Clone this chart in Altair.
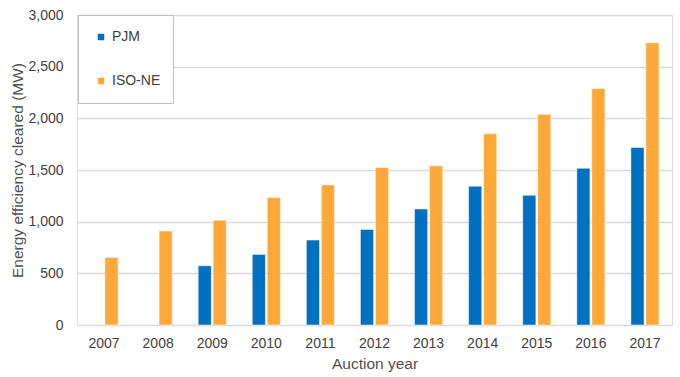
import altair as alt
import pandas as pd

years = ["2007", "2008", "2009", "2010", "2011", "2012", "2013", "2014", "2015", "2016", "2017"]
pjm = [None, None, 573, 683, 822, 925, 1123, 1343, 1255, 1517, 1718]
isone = [653, 910, 1013, 1233, 1356, 1524, 1541, 1851, 2039, 2288, 2731]
series = ["PJM", "ISO-NE"]
colors = ["#0070C0", "#FFA83A"]

rows = []
for i, y in enumerate(years):
    if pjm[i] is not None:
        rows.append({"year": y, "series": "PJM", "value": pjm[i]})
    rows.append({"year": y, "series": "ISO-NE", "value": isone[i]})
df = pd.DataFrame(rows)

FONT = "Liberation Sans"

chart = alt.Chart(df).mark_bar(strokeWidth=1, strokeOpacity=0.5, stroke="white").encode(
    x=alt.X("year:N", sort=years, title="Auction year",
            scale=alt.Scale(paddingInner=0.48, paddingOuter=0.24),
            axis=alt.Axis(labelAngle=0, labelFontSize=14, labelColor="#404040",
                          labelPadding=11, ticks=False, domain=False,
                          titleFontSize=15.5, titleColor="#505050", titleFontWeight="normal",
                          titlePadding=6, labelFont=FONT, titleFont=FONT)),
    xOffset=alt.XOffset("series:N", sort=series, scale=alt.Scale(paddingInner=0.12)),
    y=alt.Y("value:Q", title="Energy efficiency cleared (MW)",
            scale=alt.Scale(domain=[0, 3000]),
            axis=alt.Axis(values=[0, 500, 1000, 1500, 2000, 2500, 3000], format=",.0f",
                          labelFontSize=14, labelColor="#404040", labelPadding=14,
                          ticks=False, domain=False, gridColor="#D9D9D9", gridWidth=1.5,
                          titleFontSize=15.5, titleColor="#505050", titleFontWeight="normal",
                          titlePadding=2, labelFont=FONT, titleFont=FONT)),
    color=alt.Color("series:N", sort=series,
                    scale=alt.Scale(domain=series, range=colors),
                    legend=alt.Legend(title=None, orient="none", legendX=1, legendY=0,
                                      symbolType="square", symbolSize=64,
                                      labelFontSize=14, labelColor="#404040", labelFont=FONT,
                                      labelOffset=4, padding=12, rowPadding=24,
                                      clipHeight=20,
                                      fillColor="white", strokeColor="#BFBFBF",
                                      symbolOffset=4, labelLimit=200)),
).properties(
    width=595, height=310,
    autosize=alt.AutoSizeParams(type="none"),
    padding={"left": 77, "top": 15, "right": 8, "bottom": 52},
).configure_view(stroke=None).configure(background="white")

chart.save("out.html", embed_options={"renderer": "svg", "actions": False})
